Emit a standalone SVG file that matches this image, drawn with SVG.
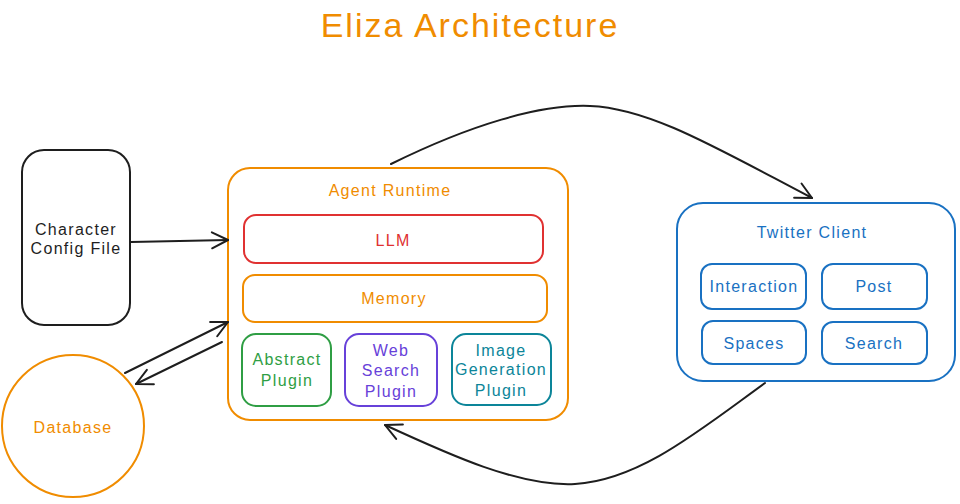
<svg xmlns="http://www.w3.org/2000/svg" width="960" height="504" viewBox="0 0 960 504">
<defs>
<marker id="ah" viewBox="0 0 20 20" refX="18" refY="10" markerWidth="20" markerHeight="20" markerUnits="userSpaceOnUse" orient="auto">
<path d="M2,2 L18,10 L2,18" fill="none" stroke="#1e1e1e" stroke-width="2" stroke-linecap="round" stroke-linejoin="round"/>
</marker>
<style>
text{font-family:"Liberation Sans","DejaVu Sans",sans-serif;text-anchor:middle;dominant-baseline:central}
.box{fill:none;stroke-width:2}
.lbl{font-size:16px;letter-spacing:1.3px}
.conn{fill:none;stroke:#1e1e1e;stroke-width:2;stroke-linecap:round}
</style>
</defs>
<rect width="960" height="504" fill="#ffffff"/>
<text x="470" y="25" font-size="34" letter-spacing="2" fill="#f08c00">Eliza Architecture</text>

<g id="config">
<rect class="box" x="22" y="150" width="108" height="175" rx="22" stroke="#1e1e1e"/>
<text class="lbl" x="76" y="229" fill="#1e1e1e">Character</text>
<text class="lbl" x="76" y="248" fill="#1e1e1e">Config File</text>
</g>

<g id="database">
<circle class="box" cx="73" cy="426" r="71" stroke="#f08c00"/>
<text class="lbl" x="73" y="427" fill="#f08c00">Database</text>
</g>

<g id="runtime">
<rect class="box" x="228" y="168" width="340" height="252" rx="22" stroke="#f08c00"/>
<text class="lbl" x="390" y="190" fill="#f08c00">Agent Runtime</text>
</g>
<g id="llm">
<rect class="box" x="244" y="215" width="299" height="48" rx="12" stroke="#e03131"/>
<text class="lbl" x="393" y="240" fill="#e03131">LLM</text>
</g>
<g id="memory">
<rect class="box" x="243" y="275" width="304" height="47" rx="12" stroke="#f08c00"/>
<text class="lbl" x="394" y="298" fill="#f08c00">Memory</text>
</g>
<g id="abstract">
<rect class="box" x="242" y="334" width="89" height="72" rx="14" stroke="#2f9e44"/>
<text class="lbl" x="287" y="359" fill="#2f9e44">Abstract</text>
<text class="lbl" x="287" y="380" fill="#2f9e44">Plugin</text>
</g>
<g id="websearch">
<rect class="box" x="345" y="334" width="92" height="72" rx="14" stroke="#6741d9"/>
<text class="lbl" x="391" y="350" fill="#6741d9">Web</text>
<text class="lbl" x="391" y="370" fill="#6741d9">Search</text>
<text class="lbl" x="391" y="391" fill="#6741d9">Plugin</text>
</g>
<g id="imagegen">
<rect class="box" x="452" y="334" width="99" height="71" rx="14" stroke="#0c8599"/>
<text class="lbl" x="501" y="350" fill="#0c8599">Image</text>
<text class="lbl" x="501" y="369" fill="#0c8599" letter-spacing="0.6">Generation</text>
<text class="lbl" x="501" y="390" fill="#0c8599">Plugin</text>
</g>

<g id="twitter">
<rect class="box" x="677" y="203" width="278" height="178" rx="26" stroke="#1971c2"/>
<text class="lbl" x="812" y="232" fill="#1971c2">Twitter Client</text>
</g>
<g id="interaction">
<rect class="box" x="701" y="264" width="105" height="45" rx="11" stroke="#1971c2"/>
<text class="lbl" x="754" y="286" fill="#1971c2">Interaction</text>
</g>
<g id="post">
<rect class="box" x="822" y="264" width="105" height="45" rx="11" stroke="#1971c2"/>
<text class="lbl" x="874" y="286" fill="#1971c2">Post</text>
</g>
<g id="spaces">
<rect class="box" x="702" y="321" width="104" height="43" rx="11" stroke="#1971c2"/>
<text class="lbl" x="754" y="343" fill="#1971c2">Spaces</text>
</g>
<g id="search">
<rect class="box" x="822" y="322" width="105" height="42" rx="11" stroke="#1971c2"/>
<text class="lbl" x="874" y="343" fill="#1971c2">Search</text>
</g>

<g id="connectors">
<path class="conn" d="M131,242 L228,240" marker-end="url(#ah)"/>
<path class="conn" d="M125,373 L228,322" marker-end="url(#ah)"/>
<path class="conn" d="M222,342 L136,384" marker-end="url(#ah)"/>
<path class="conn" d="M391,164 C470,125 540,104 590,106 C650,108 720,150 812,198" marker-end="url(#ah)"/>
<path class="conn" d="M765,383 C700,430 640,480 575,484 C520,487 450,455 385,425" marker-end="url(#ah)"/>
</g>
</svg>
